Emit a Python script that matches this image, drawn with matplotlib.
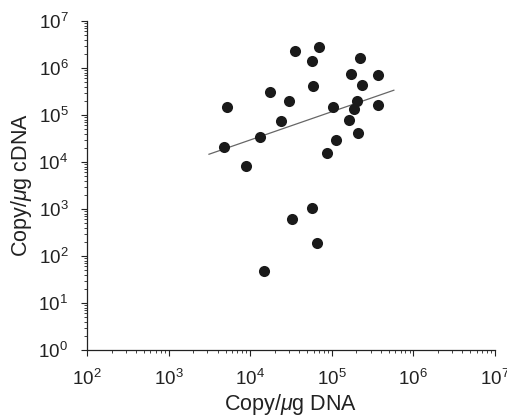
import matplotlib
matplotlib.use("Agg")
import matplotlib.pyplot as plt
import numpy as np

plt.rcParams['font.family'] = ['Liberation Sans', 'DejaVu Sans']
plt.rcParams['mathtext.fontset'] = 'custom'
plt.rcParams['mathtext.rm'] = 'Liberation Sans'
plt.rcParams['mathtext.it'] = 'Liberation Sans:italic'

dna = [5240, 4770, 8810, 13200, 17500, 23800, 29900, 35700, 69000, 57100,
       59300, 88100, 113500, 105000, 161000, 187000, 205000, 237000, 171000,
       222000, 372000, 365000, 211000, 56700, 32500, 65900, 14600]
cdna = [150000, 21200, 8340, 34000, 313000, 75700, 201000, 2.30e6, 2.80e6, 1.41e6,
        414000, 15500, 29400, 148000, 78300, 132000, 199000, 434000, 745000,
        1.61e6, 720000, 161000, 41400, 1050, 612, 192, 48]
fit_x = [3130, 578000]
fit_y = [14600, 336000]

fig = plt.figure(figsize=(5.07, 4.19), dpi=100)
ax = fig.add_axes([0.1716, 0.1647, 0.8044, 0.7853])

ax.plot(fit_x, fit_y, color='#666666', lw=0.9, zorder=2)
ax.plot(dna, cdna, 'o', color='#1a1a1a', markersize=8.0, mec='none', zorder=3)

ax.set_xscale('log')
ax.set_yscale('log')
ax.set_xlim(1e2, 1e7)
ax.set_ylim(1e0, 1e7)
ax.set_xticks([10.0**k for k in range(2, 8)])
ax.set_yticks([10.0**k for k in range(0, 8)])

for s in ['top', 'right']:
    ax.spines[s].set_visible(False)
for s in ['left', 'bottom']:
    ax.spines[s].set_linewidth(0.9)
    ax.spines[s].set_color('#222222')

ax.tick_params(which='major', length=4.5, width=0.8, labelsize=13.5, colors='#222222', pad=9)
ax.tick_params(which='minor', length=2.5, width=0.6, colors='#222222')

ax.set_xlabel(r'Copy/$\mu$g DNA', fontsize=15.5, color='#222222', labelpad=2)
ax.set_ylabel(r'Copy/$\mu$g cDNA', fontsize=15.5, color='#222222', labelpad=3)

fig.savefig('out.png', dpi=100)
